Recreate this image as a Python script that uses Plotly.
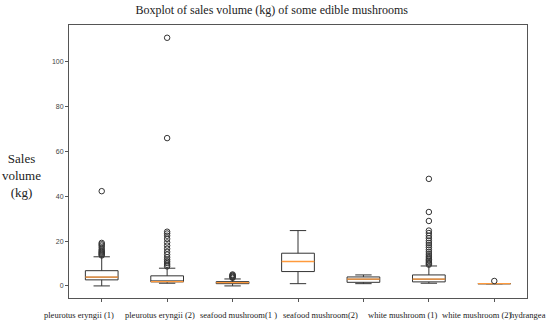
import plotly.graph_objects as go

categories = ["pleurotus eryngii (1)", "pleurotus eryngii (2)", "seafood mushroom(1 )",
              "seafood mushroom(2)", "white mushroom (1)", "white mushroom (2)", "hydrangea"]
q1 = [2.7, 1.8, 1.0, 6.4, 1.6, 1.8, 1.0]
median = [3.9, 1.9, 1.5, 10.9, 3.0, 3.0, 1.0]
q3 = [6.8, 4.5, 1.9, 14.6, 4.0, 4.9, 1.0]
lower_whisker = [0.0, 1.2, 0.0, 1.0, 1.0, 1.2, 1.0]
upper_whisker = [13.0, 7.9, 3.1, 24.7, 4.9, 8.9, 1.0]
outliers = [
    [13.6, 14.0, 14.4, 14.8, 15.2, 15.7, 16.3, 17.2, 18.0, 18.6, 19.2, 42.3],
    [8.7, 9.4, 10.2, 11.0, 11.8, 12.8, 14.0, 15.2, 16.6, 18.0, 19.4, 21.0, 22.4, 23.4, 24.2, 66.0, 110.8],
    [3.6, 3.9, 4.2, 4.5, 4.8, 5.1],
    [],
    [],
    [9.5, 10.0, 10.6, 11.2, 11.8, 12.5, 13.3, 14.2, 15.2, 16.2, 17.2, 18.2, 19.2, 20.2, 21.3, 22.4, 23.6, 24.7, 29.0, 33.0, 47.8],
    [2.2],
]
y_ticks = [0, 20, 40, 60, 80, 100]

# label layout (style): centres of category labels, in paper fraction
label_centres = [0.022, 0.199, 0.371, 0.550, 0.729, 0.891, 1.003]

positions = list(range(1, len(categories) + 1))
box_w = 0.5
line_col = "#333333"
med_col = "#ff9a3c"

fig = go.Figure()
for i, p in enumerate(positions):
    fig.add_trace(go.Box(
        x=[p], q1=[q1[i]], median=[median[i]], q3=[q3[i]],
        lowerfence=[lower_whisker[i]], upperfence=[upper_whisker[i]],
        width=box_w, whiskerwidth=0.5, fillcolor="white",
        line=dict(color=line_col, width=1), boxpoints=False, showlegend=False,
        hoverinfo="skip"))
for i, p in enumerate(positions):
    fig.add_trace(go.Scatter(
        x=[p - box_w / 2, p + box_w / 2], y=[median[i], median[i]], mode="lines",
        line=dict(color=med_col, width=1.3), showlegend=False, hoverinfo="skip"))
    if outliers[i]:
        fig.add_trace(go.Scatter(
            x=[p] * len(outliers[i]), y=outliers[i], mode="markers",
            marker=dict(symbol="circle-open", size=5.5, color=line_col, line=dict(width=1)),
            showlegend=False, hoverinfo="skip"))

serif = "Liberation Serif, Times New Roman, serif"
fig.update_layout(
    width=550, height=324,
    margin=dict(l=69, r=23, t=25, b=26, autoexpand=False),
    paper_bgcolor="white", plot_bgcolor="white",
    title=dict(text="Boxplot of sales volume (kg) of some edible mushrooms",
               x=0.494, xanchor="center", y=0.969, yanchor="middle",
               font=dict(family=serif, size=12, color="#222")),
    xaxis=dict(range=[0.5, 7.5], tickvals=positions, ticktext=[""] * len(positions),
               showgrid=False, zeroline=False, showline=True, mirror=True,
               linecolor="#555", linewidth=1, ticks="outside", ticklen=3,
               tickcolor="#555"),
    yaxis=dict(range=[-5.4, 116.5], tickvals=y_ticks, showgrid=False, zeroline=False,
               showline=True, mirror=True, linecolor="#555", linewidth=1,
               ticks="outside", ticklen=3, tickcolor="#555",
               tickfont=dict(family="Liberation Sans, Arial, sans-serif", size=7, color="#444")),
    annotations=[dict(text="Sales<br>volume<br>(kg)", xref="paper", yref="paper",
                      x=-0.103, y=0.447, xanchor="center", yanchor="middle",
                      showarrow=False, align="center",
                      font=dict(family=serif, size=13, color="#222"))]
    + [dict(text=c, xref="paper", yref="paper", x=label_centres[i], y=-0.064,
            xanchor="center", yanchor="middle", showarrow=False,
            font=dict(family=serif, size=8.5, color="#222"))
       for i, c in enumerate(categories)],
)

fig.write_html("out.html", config={"displayModeBar": False},
               post_script="document.body.style.margin='0';document.body.style.overflow='hidden';")
